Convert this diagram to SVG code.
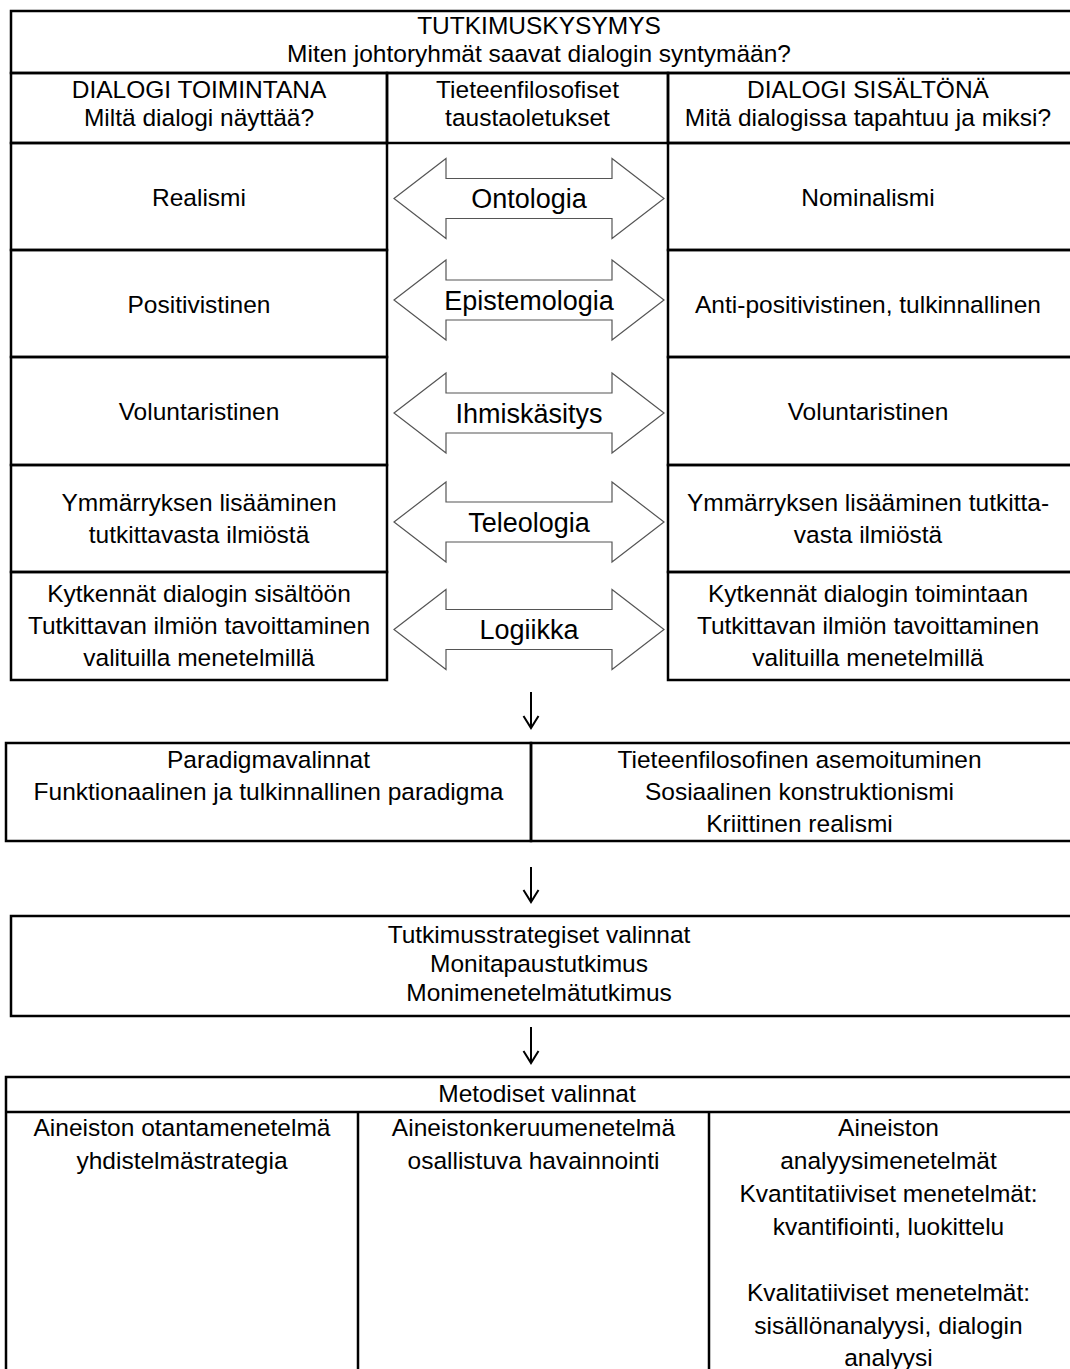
<svg xmlns="http://www.w3.org/2000/svg" xmlns:xlink="http://www.w3.org/1999/xlink" width="1070" height="1369" viewBox="0 0 1070 1369">
<style>
.b{fill:none;stroke:#000;stroke-width:2.5}
.t{font-family:"Liberation Sans",Arial,sans-serif;font-size:24.5px;text-anchor:middle;fill:#000}
.a{font-size:27px}
.arr{fill:#fff;stroke:#555;stroke-width:1.2}
.dn{fill:none;stroke:#000;stroke-width:2}
</style>
<defs>
<polygon id="dbl" points="-135,0 -83,-40 -83,-20 83,-20 83,-40 135,0 83,40 83,20 -83,20 -83,40"/>
</defs>
<rect width="1070" height="1369" fill="#fff"/>

<!-- Top table -->
<g id="research-question">
<rect class="b" x="11" y="11" width="1061" height="62"/>
<text class="t" x="539" y="34">TUTKIMUSKYSYMYS</text>
<text class="t" x="539" y="62">Miten johtoryhmät saavat dialogin syntymään?</text>
</g>
<g id="header-left">
<rect class="b" x="11" y="73" width="376" height="70"/>
<text class="t" x="199" y="98">DIALOGI TOIMINTANA</text>
<text class="t" x="199" y="126">Miltä dialogi näyttää?</text>
</g>
<g id="header-middle">
<rect class="b" x="387" y="73" width="281" height="70"/>
<text class="t" x="527.5" y="98">Tieteenfilosofiset</text>
<text class="t" x="527.5" y="126">taustaoletukset</text>
</g>
<g id="header-right">
<rect class="b" x="668" y="73" width="404" height="70"/>
<text class="t" x="868" y="98">DIALOGI SISÄLTÖNÄ</text>
<text class="t" x="868" y="126">Mitä dialogissa tapahtuu ja miksi?</text>
</g>

<g id="left-ontology">
<rect class="b" x="11" y="143" width="376" height="107"/>
<text class="t" x="199" y="206">Realismi</text>
</g>
<g id="left-epistemology">
<rect class="b" x="11" y="250" width="376" height="107"/>
<text class="t" x="199" y="313">Positivistinen</text>
</g>
<g id="left-human">
<rect class="b" x="11" y="357" width="376" height="108"/>
<text class="t" x="199" y="420">Voluntaristinen</text>
</g>
<g id="left-teleology">
<rect class="b" x="11" y="465" width="376" height="107"/>
<text class="t" x="199" y="511">Ymmärryksen lisääminen</text>
<text class="t" x="199" y="543">tutkittavasta ilmiöstä</text>
</g>
<g id="left-logic">
<rect class="b" x="11" y="572" width="376" height="108"/>
<text class="t" x="199" y="602">Kytkennät dialogin sisältöön</text>
<text class="t" x="199" y="634">Tutkittavan ilmiön tavoittaminen</text>
<text class="t" x="199" y="666">valituilla menetelmillä</text>
</g>

<g id="right-ontology">
<rect class="b" x="668" y="143" width="404" height="107"/>
<text class="t" x="868" y="206">Nominalismi</text>
</g>
<g id="right-epistemology">
<rect class="b" x="668" y="250" width="404" height="107"/>
<text class="t" x="868" y="313">Anti-positivistinen, tulkinnallinen</text>
</g>
<g id="right-human">
<rect class="b" x="668" y="357" width="404" height="108"/>
<text class="t" x="868" y="420">Voluntaristinen</text>
</g>
<g id="right-teleology">
<rect class="b" x="668" y="465" width="404" height="107"/>
<text class="t" x="868" y="511">Ymmärryksen lisääminen tutkitta-</text>
<text class="t" x="868" y="543">vasta ilmiöstä</text>
</g>
<g id="right-logic">
<rect class="b" x="668" y="572" width="404" height="108"/>
<text class="t" x="868" y="602">Kytkennät dialogin toimintaan</text>
<text class="t" x="868" y="634">Tutkittavan ilmiön tavoittaminen</text>
<text class="t" x="868" y="666">valituilla menetelmillä</text>
</g>

<!-- Double arrows -->
<g id="arrow-ontologia">
<use xlink:href="#dbl" href="#dbl" class="arr" x="529" y="198.5"/>
<text class="t a" x="529" y="208">Ontologia</text>
</g>
<g id="arrow-epistemologia">
<use xlink:href="#dbl" href="#dbl" class="arr" x="529" y="300"/>
<text class="t a" x="529" y="309.5">Epistemologia</text>
</g>
<g id="arrow-ihmiskasitys">
<use xlink:href="#dbl" href="#dbl" class="arr" x="529" y="413"/>
<text class="t a" x="529" y="422.5">Ihmiskäsitys</text>
</g>
<g id="arrow-teleologia">
<use xlink:href="#dbl" href="#dbl" class="arr" x="529" y="522"/>
<text class="t a" x="529" y="531.5">Teleologia</text>
</g>
<g id="arrow-logiikka">
<use xlink:href="#dbl" href="#dbl" class="arr" x="529" y="629.5"/>
<text class="t a" x="529" y="639">Logiikka</text>
</g>

<!-- Paradigm section -->
<g id="paradigm-choices">
<rect class="b" x="6" y="743" width="525" height="98"/>
<text class="t" x="268.5" y="768">Paradigmavalinnat</text>
<text class="t" x="268.5" y="800">Funktionaalinen ja tulkinnallinen paradigma</text>
</g>
<g id="philosophical-positioning">
<rect class="b" x="531" y="743" width="541" height="98"/>
<text class="t" x="799.5" y="768">Tieteenfilosofinen asemoituminen</text>
<text class="t" x="799.5" y="800">Sosiaalinen konstruktionismi</text>
<text class="t" x="799.5" y="832">Kriittinen realismi</text>
</g>

<!-- Strategy section -->
<g id="strategy-choices">
<rect class="b" x="11" y="916" width="1061" height="100"/>
<text class="t" x="539" y="943">Tutkimusstrategiset valinnat</text>
<text class="t" x="539" y="972">Monitapaustutkimus</text>
<text class="t" x="539" y="1001">Monimenetelmätutkimus</text>
</g>

<!-- Method section -->
<g id="method-choices">
<rect class="b" x="6" y="1077" width="1066" height="300"/>
<line class="b" x1="6" y1="1112" x2="1072" y2="1112"/>
<text class="t" x="537" y="1102">Metodiset valinnat</text>
</g>
<g id="sampling-method">
<text class="t" x="182" y="1136">Aineiston otantamenetelmä</text>
<text class="t" x="182" y="1169">yhdistelmästrategia</text>
</g>
<g id="collection-method">
<line class="b" x1="358" y1="1112" x2="358" y2="1372"/>
<text class="t" x="533.5" y="1136">Aineistonkeruumenetelmä</text>
<text class="t" x="533.5" y="1169">osallistuva havainnointi</text>
</g>
<g id="analysis-methods">
<line class="b" x1="709" y1="1112" x2="709" y2="1372"/>
<text class="t" x="888.5" y="1136">Aineiston</text>
<text class="t" x="888.5" y="1169">analyysimenetelmät</text>
<text class="t" x="888.5" y="1202">Kvantitatiiviset menetelmät:</text>
<text class="t" x="888.5" y="1235">kvantifiointi, luokittelu</text>
<text class="t" x="888.5" y="1301">Kvalitatiiviset menetelmät:</text>
<text class="t" x="888.5" y="1334">sisällönanalyysi, dialogin</text>
<text class="t" x="888.5" y="1366">analyysi</text>
</g>

<!-- Connectors -->
<g id="connectors">
<path class="dn" d="M531 692 V728 M523.5 716 L531 728 L538.5 716"/>
<path class="dn" d="M531 867 V902 M523.5 890 L531 902 L538.5 890"/>
<path class="dn" d="M531 1027 V1063 M523.5 1051 L531 1063 L538.5 1051"/>
</g>
</svg>
